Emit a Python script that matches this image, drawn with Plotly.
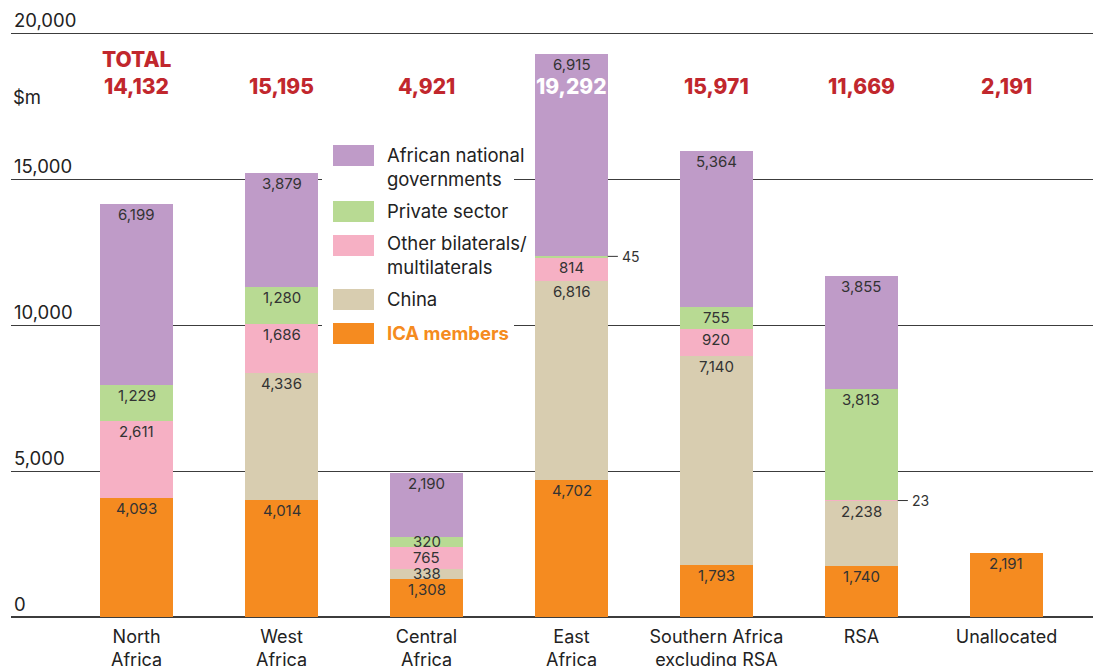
import plotly.graph_objects as go

# ---------------- data ----------------
categories = ["North<br>Africa", "West<br>Africa", "Central<br>Africa", "East<br>Africa",
              "Southern Africa<br>excluding RSA", "RSA", "Unallocated"]
ica_members = [4093, 4014, 1308, 4702, 1793, 1740, 2191]
china = [0, 4336, 338, 6816, 7140, 2238, 0]
other_bilaterals = [2611, 1686, 765, 814, 920, 23, 0]
private_sector = [1229, 1280, 320, 45, 755, 3813, 0]
african_governments = [6199, 3879, 2190, 6915, 5364, 3855, 0]
totals = ["14,132", "15,195", "4,921", "19,292", "15,971", "11,669", "2,191"]
y_tick_values = [0, 5000, 10000, 15000, 20000]
y_tick_labels = ["0", "5,000", "10,000", "15,000", "20,000"]

series = [
    ("ICA members", ica_members, "#f58b20"),
    ("China", china, "#d8cdb0"),
    ("Other bilaterals/<br>multilaterals", other_bilaterals, "#f6b0c4"),
    ("Private sector", private_sector, "#b8da93"),
    ("African national<br>governments", african_governments, "#bf9bc8"),
]

FONT = "Inter"
W, H = 1093, 666
L, R, T, B = 11, 0, 4, 49
PW, PH = W - L - R, H - T - B


def px_x(p):
    return (p - L) / PW


def px_y(p):
    return (H - B - p) / PH


fig = go.Figure()
for name, vals, color in series:
    fig.add_trace(go.Bar(
        x=categories, y=vals, name=name,
        marker=dict(color=color, line=dict(width=0)),
        width=[0.5] * len(categories),
        showlegend=False, hoverinfo="skip",
    ))

shapes = []
annotations = []
label_font = dict(family=FONT, size=15, color="#333333")

# segment labels and small segment call-outs
for si, (name, vals, color) in enumerate(series):
    for ci, v in enumerate(vals):
        if v <= 0:
            continue
        base = sum(series[k][1][ci] for k in range(si))
        top = base + v
        if v < 100:
            mid = base + v / 2
            shapes.append(dict(type="line", xref="x", yref="y",
                               x0=ci + 0.25, x1=ci + 0.32, y0=mid, y1=mid,
                               line=dict(color="#333333", width=1)))
            annotations.append(dict(x=ci + 0.335, y=mid, xref="x", yref="y",
                                    text=f"{v:,}", showarrow=False, xanchor="left",
                                    yanchor="middle",
                                    font=dict(family=FONT, size=14, color="#333333")))
        elif v < 550:
            annotations.append(dict(x=ci, y=base + v / 2, xref="x", yref="y",
                                    text=f"{v:,}", showarrow=False, xanchor="center",
                                    yanchor="middle", font=label_font))
        else:
            annotations.append(dict(x=ci, y=top, xref="x", yref="y",
                                    text=f"{v:,}", showarrow=False, xanchor="center",
                                    yanchor="top", yshift=1, font=label_font))

# totals
for ci, t in enumerate(totals):
    annotations.append(dict(x=ci, y=px_y(87), xref="x", yref="paper", text=t,
                            showarrow=False, xanchor="center", yanchor="middle",
                            font=dict(family=FONT, size=21, weight=800,
                                      color="#ffffff" if ci == 3 else "#c1272d")))
annotations.append(dict(x=0, y=px_y(60), xref="x", yref="paper", text="TOTAL",
                        showarrow=False, xanchor="center", yanchor="middle",
                        font=dict(family=FONT, size=21, weight=800, color="#c1272d")))

# unit label
annotations.append(dict(x=0, y=px_y(97), xref="paper", yref="paper", text="$m",
                        showarrow=False, xanchor="left", yanchor="middle",
                        font=dict(family=FONT, size=18.5, color="#222222")))

# legend (manual)
shapes.append(dict(type="rect", xref="paper", yref="paper", layer="above",
                   x0=px_x(322), x1=px_x(514), y0=px_y(350), y1=px_y(138),
                   fillcolor="white", line=dict(width=0)))
legend_rows = [
    ("African national<br>governments", "#bf9bc8", 145, 166, 167, "#222222", False),
    ("Private sector", "#b8da93", 201, 222, 211, "#222222", False),
    ("Other bilaterals/<br>multilaterals", "#f6b0c4", 235, 256, 255, "#222222", False),
    ("China", "#d8cdb0", 289, 310, 299, "#222222", False),
    ("ICA members", "#f58b20", 323, 344, 333, "#f58b20", True),
]
for label, color, y0, y1, ty, tcol, bold in legend_rows:
    shapes.append(dict(type="rect", xref="paper", yref="paper", layer="above",
                       x0=px_x(333), x1=px_x(374), y0=px_y(y1), y1=px_y(y0),
                       fillcolor=color, line=dict(width=0)))
    annotations.append(dict(x=px_x(385), y=px_y(ty), xref="paper", yref="paper",
                            text=f"<b>{label}</b>" if bold else label,
                            showarrow=False, xanchor="left", yanchor="middle", align="left",
                            font=dict(family=FONT, size=18.5, color=tcol)))

fig.update_layout(
    width=W, height=H,
    margin=dict(l=L, r=R, t=T, b=B, autoexpand=False),
    barmode="stack",
    plot_bgcolor="white", paper_bgcolor="white",
    font=dict(family=FONT, color="#222222"),
    shapes=shapes, annotations=annotations,
    xaxis=dict(range=[-0.866, 6.597], showgrid=False, showline=False, ticks="",
               ticklabelstandoff=7, automargin=False,
               tickfont=dict(family=FONT, size=18, color="#222222"), fixedrange=True),
    yaxis=dict(range=[0, 21000], tickvals=y_tick_values, ticktext=y_tick_labels,
               showgrid=True, gridcolor="#3c3c3c", gridwidth=1.3,
               zeroline=True, zerolinecolor="#3c3c3c", zerolinewidth=1.6,
               ticklabelposition="inside top", ticks="", automargin=False,
               tickfont=dict(family=FONT, size=18.5, color="#222222"), fixedrange=True),
    showlegend=False,
)

fig.write_html("out.html", config={"displayModeBar": False},
               post_script="document.body.style.margin='0px';")
